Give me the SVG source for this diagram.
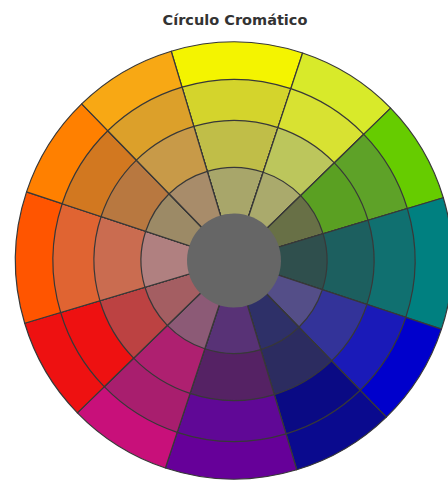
<svg xmlns="http://www.w3.org/2000/svg" width="448" height="481" viewBox="0 0 448 481">
<style>
.t{font-family:"DejaVu Sans",Verdana,sans-serif;font-weight:bold;font-size:14.5px;fill:#333}
.sec path{stroke:#383838;stroke-width:1.2;stroke-linejoin:round}
</style>
<rect width="448" height="481" fill="#fff"/>
<text class="t" x="235" y="25" text-anchor="middle">Círculo Cromático</text>
<g id="roda" transform="translate(234 260.5) rotate(0.8)">
<g id="amarelo" class="sec">
<path fill="#F4F400" d="M0 0L-65.7-208.4A218.5 218.5 0 0 1 65.7-208.4Z"/>
<path fill="#D4D42C" d="M0 0L-54.4-172.6A181 181 0 0 1 54.4-172.6Z"/>
<path fill="#C0BE48" d="M0 0L-42.1-133.5A140 140 0 0 1 42.1-133.5Z"/>
<path fill="#A8A66A" d="M0 0L-28-88.7A93 93 0 0 1 28-88.7Z"/>
</g>
<g id="amarelo-verde" class="sec">
<path fill="#D8EA2A" d="M0 0L65.7-208.4A218.5 218.5 0 0 1 154.5-154.5Z"/>
<path fill="#D8E232" d="M0 0L54.4-172.6A181 181 0 0 1 128-128Z"/>
<path fill="#BCC65C" d="M0 0L42.1-133.5A140 140 0 0 1 99-99Z"/>
<path fill="#AAAA6C" d="M0 0L28-88.7A93 93 0 0 1 65.8-65.8Z"/>
</g>
<g id="verde" class="sec">
<path fill="#66CC00" d="M0 0L154.5-154.5A218.5 218.5 0 0 1 208.4-65.7Z"/>
<path fill="#5EA228" d="M0 0L128-128A181 181 0 0 1 172.6-54.4Z"/>
<path fill="#5AA022" d="M0 0L99-99A140 140 0 0 1 133.5-42.1Z"/>
<path fill="#687046" d="M0 0L65.8-65.8A93 93 0 0 1 88.7-28Z"/>
</g>
<g id="azul-verde" class="sec">
<path fill="#008080" d="M0 0L208.4-65.7A218.5 218.5 0 0 1 208.4 65.7Z"/>
<path fill="#107070" d="M0 0L172.6-54.4A181 181 0 0 1 172.6 54.4Z"/>
<path fill="#1C5F5F" d="M0 0L133.5-42.1A140 140 0 0 1 133.5 42.1Z"/>
<path fill="#2F4F4D" d="M0 0L88.7-28A93 93 0 0 1 88.7 28Z"/>
</g>
<g id="azul" class="sec">
<path fill="#0000CC" d="M0 0L208.4 65.7A218.5 218.5 0 0 1 154.5 154.5Z"/>
<path fill="#1A1AB8" d="M0 0L172.6 54.4A181 181 0 0 1 128 128Z"/>
<path fill="#333399" d="M0 0L133.5 42.1A140 140 0 0 1 99 99Z"/>
<path fill="#544E88" d="M0 0L88.7 28A93 93 0 0 1 65.8 65.8Z"/>
</g>
<g id="azul-escuro" class="sec">
<path fill="#0A0A8E" d="M0 0L154.5 154.5A218.5 218.5 0 0 1 65.7 208.4Z"/>
<path fill="#0A0A84" d="M0 0L128 128A181 181 0 0 1 54.4 172.6Z"/>
<path fill="#2C2C60" d="M0 0L99 99A140 140 0 0 1 42.1 133.5Z"/>
<path fill="#2E3068" d="M0 0L65.8 65.8A93 93 0 0 1 28 88.7Z"/>
</g>
<g id="violeta" class="sec">
<path fill="#660099" d="M0 0L65.7 208.4A218.5 218.5 0 0 1-65.7 208.4Z"/>
<path fill="#600896" d="M0 0L54.4 172.6A181 181 0 0 1-54.4 172.6Z"/>
<path fill="#552264" d="M0 0L42.1 133.5A140 140 0 0 1-42.1 133.5Z"/>
<path fill="#583276" d="M0 0L28 88.7A93 93 0 0 1-28 88.7Z"/>
</g>
<g id="magenta" class="sec">
<path fill="#C8107A" d="M0 0L-65.7 208.4A218.5 218.5 0 0 1-154.5 154.5Z"/>
<path fill="#A81E6E" d="M0 0L-54.4 172.6A181 181 0 0 1-128 128Z"/>
<path fill="#AE2070" d="M0 0L-42.1 133.5A140 140 0 0 1-99 99Z"/>
<path fill="#8C5A76" d="M0 0L-28 88.7A93 93 0 0 1-65.8 65.8Z"/>
</g>
<g id="vermelho" class="sec">
<path fill="#EE1111" d="M0 0L-154.5 154.5A218.5 218.5 0 0 1-208.4 65.7Z"/>
<path fill="#EE1111" d="M0 0L-128 128A181 181 0 0 1-172.6 54.4Z"/>
<path fill="#BC4242" d="M0 0L-99 99A140 140 0 0 1-133.5 42.1Z"/>
<path fill="#A45E62" d="M0 0L-65.8 65.8A93 93 0 0 1-88.7 28Z"/>
</g>
<g id="vermelho-laranja" class="sec">
<path fill="#FF5500" d="M0 0L-208.4 65.7A218.5 218.5 0 0 1-208.4-65.7Z"/>
<path fill="#E06432" d="M0 0L-172.6 54.4A181 181 0 0 1-172.6-54.4Z"/>
<path fill="#CA6C50" d="M0 0L-133.5 42.1A140 140 0 0 1-133.5-42.1Z"/>
<path fill="#B08080" d="M0 0L-88.7 28A93 93 0 0 1-88.7-28Z"/>
</g>
<g id="laranja" class="sec">
<path fill="#FF8000" d="M0 0L-208.4-65.7A218.5 218.5 0 0 1-154.5-154.5Z"/>
<path fill="#D27820" d="M0 0L-172.6-54.4A181 181 0 0 1-128-128Z"/>
<path fill="#B87840" d="M0 0L-133.5-42.1A140 140 0 0 1-99-99Z"/>
<path fill="#9C8A66" d="M0 0L-88.7-28A93 93 0 0 1-65.8-65.8Z"/>
</g>
<g id="amarelo-laranja" class="sec">
<path fill="#F8A814" d="M0 0L-154.5-154.5A218.5 218.5 0 0 1-65.7-208.4Z"/>
<path fill="#DCA02A" d="M0 0L-128-128A181 181 0 0 1-54.4-172.6Z"/>
<path fill="#C89A48" d="M0 0L-99-99A140 140 0 0 1-42.1-133.5Z"/>
<path fill="#A88C6A" d="M0 0L-65.8-65.8A93 93 0 0 1-28-88.7Z"/>
</g>
<circle id="centro" r="47" fill="#666666"/>
</g>
</svg>
